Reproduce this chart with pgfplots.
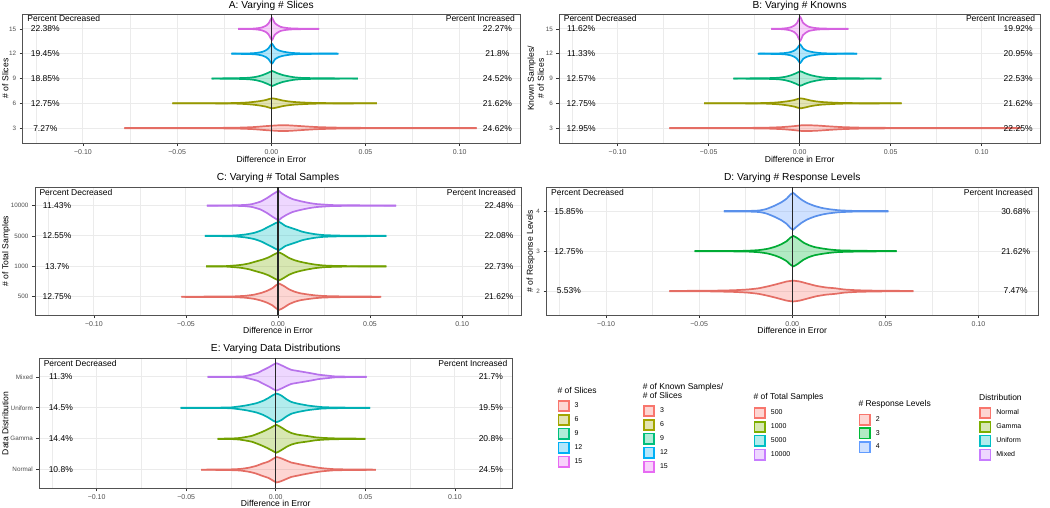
\documentclass[border=0pt]{standalone}
\usepackage{fontspec}
\setmainfont{Liberation Sans}
\usepackage{pgfplots}
\pgfplotsset{compat=1.18}
\usepackage{pgfplotstable}
\usepgfplotslibrary{fillbetween}

\definecolor{hRed}{HTML}{F8766D}
\definecolor{hOlive}{HTML}{A3A500}
\definecolor{hGreenA}{HTML}{00BF7D}
\definecolor{hBlueA}{HTML}{00B0F6}
\definecolor{hPink}{HTML}{E76BF3}
\definecolor{hLime}{HTML}{7CAE00}
\definecolor{hTeal}{HTML}{00BFC4}
\definecolor{hPurple}{HTML}{C77CFF}
\definecolor{hGreenD}{HTML}{00BA38}
\definecolor{hBlueD}{HTML}{619CFF}
\definecolor{grid92}{HTML}{EBEBEB}
\definecolor{grey20}{HTML}{333333}
\definecolor{grey30}{HTML}{4D4D4D}

% ---------- violin half-width profiles (w relative to the peak) ----------
\pgfplotstableread{
x w
-0.0525 0.01
-0.035 0.014
-0.025 0.023
-0.018 0.07
-0.013 0.16
-0.009 0.30
-0.006 0.45
-0.003 0.66
-0.001 0.89
0.0007 1
0.003 0.84
0.006 0.57
0.009 0.39
0.012 0.27
0.016 0.18
0.020 0.11
0.025 0.057
0.035 0.027
0.045 0.016
0.056 0.01
}\tBase

\pgfplotstableread{
x w
-0.0176 0.01
-0.010 0.022
-0.007 0.067
-0.005 0.13
-0.003 0.27
-0.0015 0.49
0.0003 1
0.0018 0.53
0.0035 0.31
0.005 0.18
0.007 0.11
0.009 0.067
0.012 0.033
0.018 0.018
0.0254 0.01
}\tAf

\pgfplotstableread{
x w
-0.0212 0.01
-0.012 0.03
-0.008 0.075
-0.005 0.175
-0.003 0.33
-0.0015 0.55
0.0003 1
0.002 0.55
0.004 0.33
0.006 0.22
0.008 0.15
0.011 0.075
0.016 0.03
0.025 0.015
0.0356 0.01
}\tAt

\pgfplotstableread{
x w
-0.0317 0.013
-0.02 0.033
-0.012 0.1
-0.008 0.23
-0.005 0.43
-0.002 0.73
0.0005 1
0.003 0.73
0.006 0.47
0.009 0.3
0.012 0.17
0.016 0.083
0.025 0.033
0.035 0.02
0.0459 0.013
}\tAn

\pgfplotstableread{
x w
-0.078 0.03
-0.04 0.05
-0.02 0.12
-0.01 0.33
-0.003 0.67
0.003 0.92
0.007 1
0.012 0.83
0.018 0.58
0.025 0.33
0.035 0.17
0.05 0.08
0.07 0.05
0.09 0.035
0.109 0.025
}\tAr

\pgfplotstableread{
x w
-0.0156 0.01
-0.010 0.022
-0.007 0.067
-0.005 0.13
-0.003 0.27
-0.0015 0.49
0.0003 1
0.0018 0.53
0.0035 0.31
0.005 0.18
0.007 0.11
0.009 0.067
0.012 0.033
0.018 0.018
0.0267 0.01
}\tBf

\pgfplotstableread{
x w
-0.0229 0.01
-0.012 0.03
-0.008 0.075
-0.005 0.175
-0.003 0.33
-0.0015 0.55
0.0003 1
0.002 0.55
0.004 0.33
0.006 0.22
0.008 0.15
0.011 0.075
0.016 0.03
0.025 0.015
0.0316 0.01
}\tBt

\pgfplotstableread{
x w
-0.0364 0.013
-0.02 0.033
-0.012 0.1
-0.008 0.23
-0.005 0.43
-0.002 0.73
0.0005 1
0.003 0.73
0.006 0.47
0.009 0.3
0.012 0.17
0.016 0.083
0.025 0.033
0.035 0.02
0.0449 0.013
}\tBn

\pgfplotstableread{
x w
-0.0715 0.03
-0.04 0.05
-0.02 0.12
-0.01 0.33
-0.003 0.67
0.001 0.95
0.004 1
0.010 0.85
0.016 0.6
0.023 0.35
0.033 0.17
0.05 0.08
0.07 0.05
0.095 0.035
0.1215 0.025
}\tBr

\pgfplotstableread{
x w
-0.0386 0.009
-0.025 0.013
-0.018 0.04
-0.014 0.1
-0.0096 0.26
-0.006 0.5
-0.003 0.75
-0.001 0.9
0.0003 1
0.002 0.82
0.005 0.6
0.008 0.43
0.012 0.3
0.015 0.22
0.0175 0.16
0.021 0.1
0.025 0.065
0.03 0.03
0.045 0.013
0.0641 0.009
}\tCa

\pgfplotstableread{
x w
-0.0397 0.011
-0.025 0.02
-0.018 0.1
-0.013 0.22
-0.009 0.4
-0.006 0.6
-0.003 0.8
-0.001 0.94
0.0007 1
0.002 0.9
0.004 0.72
0.007 0.58
0.010 0.45
0.013 0.31
0.016 0.22
0.020 0.13
0.025 0.06
0.035 0.021
0.045 0.015
0.0589 0.011
}\tCb

\pgfplotstableread{
x w
-0.039 0.009
-0.028 0.019
-0.0204 0.1
-0.016 0.2
-0.012 0.35
-0.008 0.5
-0.005 0.65
-0.002 0.86
0.0005 1
0.003 0.84
0.006 0.6
0.009 0.44
0.012 0.33
0.016 0.22
0.020 0.13
0.025 0.06
0.033 0.023
0.045 0.014
0.0589 0.009
}\tCc

\pgfplotstableread{
x w
-0.0367 0.009
-0.025 0.013
-0.018 0.04
-0.014 0.12
-0.010 0.28
-0.006 0.48
-0.003 0.69
-0.001 0.91
0.0005 1
0.002 0.87
0.005 0.63
0.008 0.45
0.012 0.29
0.016 0.18
0.020 0.11
0.025 0.054
0.032 0.022
0.042 0.013
0.0516 0.009
}\tDf

\pgfplotstableread{
x w
-0.066 0.015
-0.045 0.03
-0.032 0.077
-0.024 0.15
-0.018 0.27
-0.012 0.5
-0.007 0.73
-0.003 0.92
0.0005 1
0.004 0.92
0.008 0.73
0.013 0.5
0.018 0.35
0.023 0.27
0.028 0.15
0.035 0.077
0.045 0.038
0.055 0.023
0.065 0.015
}\tDt

\pgfplotstableread{
x w
-0.038 0.009
-0.025 0.014
-0.018 0.04
-0.0134 0.17
-0.010 0.3
-0.0078 0.45
-0.004 0.7
-0.001 0.93
0.0005 1
0.003 0.86
0.006 0.67
0.0086 0.52
0.012 0.44
0.016 0.35
0.020 0.26
0.024 0.16
0.029 0.09
0.033 0.035
0.042 0.014
0.0507 0.009
}\tEm

\pgfplotstableread{
x w
-0.0531 0.009
-0.035 0.013
-0.025 0.03
-0.017 0.16
-0.011 0.32
-0.007 0.5
-0.004 0.7
-0.0015 0.9
0.0005 1
0.003 0.87
0.006 0.6
0.0086 0.42
0.012 0.3
0.018 0.16
0.022 0.1
0.026 0.05
0.032 0.026
0.042 0.013
0.0526 0.009
}\tEu

\pgfplotstableread{
x w
-0.0325 0.009
-0.025 0.02
-0.020 0.06
-0.0134 0.21
-0.0079 0.48
-0.005 0.65
-0.002 0.85
0.0003 1
0.003 0.82
0.006 0.58
0.0086 0.42
0.012 0.3
0.018 0.19
0.022 0.11
0.026 0.067
0.032 0.033
0.04 0.018
0.050 0.009
}\tEg

\pgfplotstableread{
x w
-0.0417 0.01
-0.028 0.017
-0.020 0.06
-0.015 0.16
-0.011 0.3
-0.0078 0.47
-0.004 0.65
-0.0015 0.86
0.0005 1
0.003 0.9
0.006 0.72
0.0086 0.57
0.012 0.47
0.015 0.38
0.018 0.3
0.022 0.2
0.026 0.12
0.032 0.05
0.042 0.019
0.0559 0.01
}\tEn

% #1 table, #2 category position, #3 peak half-width, #4 colour, #5 unique id
\newcommand{\violin}[5]{%
  \addplot[draw=#4!92!black, line width=1.7pt, smooth, tension=0.3, name path=u#5]
    table[x=x, y expr={#2+#3*\thisrow{w}}] {#1};
  \addplot[draw=#4!92!black, line width=1.7pt, smooth, tension=0.3, name path=l#5]
    table[x=x, y expr={#2-#3*\thisrow{w}}] {#1};
  \addplot[fill=#4, fill opacity=0.3, draw=none] fill between[of=u#5 and l#5];
}
\newcommand{\pctfont}{\fontsize{8.5}{10}\selectfont}
\newcommand{\pct}[3]{%
  \node[font=\pctfont, anchor=center, inner sep=0pt] at (axis cs:-0.12,#1) {#2};
  \node[font=\pctfont, anchor=center, inner sep=0pt] at (axis cs:0.12,#1) {#3};
}
\newcommand{\pcthead}{%
  \node[font=\pctfont, anchor=north west, inner sep=0pt] at (axis description cs:0.009,0.988) {Percent Decreased};
  \node[font=\pctfont, anchor=north east, inner sep=0pt] at (axis description cs:0.99,0.988) {Percent Increased};
}
\newcommand{\zeroline}[1]{%
  \addplot[black!85, line width=1.1pt] coordinates {(0,0.4) (0,#1)};
}
\newcommand{\dummy}{\addplot[draw=none, forget plot] coordinates {(0,0) (1,1)};}

\pgfplotsset{
  panel/.style={
    scale only axis,
    xmin=-0.132, xmax=0.132,
    xtick={-0.1,-0.05,0,0.05,0.1},
    xticklabels={−0.10,−0.05,0.00,0.05,0.10},
    minor xtick={-0.125,-0.075,-0.025,0.025,0.075,0.125},
    xmajorgrids=true, ymajorgrids=true, xminorgrids=true,
    major grid style={draw=grid92, line width=1pt},
    minor grid style={draw=grid92, line width=0.5pt},
    axis line style={draw=grey20!85, line width=1pt},
    tick pos=left, tick align=outside,
    major tick length=3pt, minor tick length=0pt,
    tick style={draw=grey20, line width=0.7pt},
    xticklabel style={font=\fontsize{7}{8}\selectfont, text=grey30},
    yticklabel style={font=\fontsize{6.3}{7}\selectfont, text=grey30},
    xlabel={Difference in Error},
    label style={font=\fontsize{8.6}{10}\selectfont},
    title style={font=\fontsize{10.2}{12}\selectfont, anchor=base, yshift=-6pt},
  },
  legax/.style={
    axis lines=none, scale only axis, width=5pt, height=5pt,
    xmin=0, xmax=1, ymin=0, ymax=1, xtick=\empty, ytick=\empty,
    legend style={at={(0,1)}, anchor=north west, draw=none, fill=none,
      font=\fontsize{7}{8}\selectfont, inner sep=0pt, outer sep=0pt,
      row sep=1.9pt, column sep=4.5pt, nodes={inner sep=0.6pt}},
    legend cell align=left,
    legend image code/.code={\draw[##1] (0pt,-5.2pt) rectangle (10.4pt,5.2pt);},
  },
}

\begin{document}
\begin{tikzpicture}

% ================= A =================
\begin{axis}[panel, at={(22.7pt,-143pt)}, anchor=south west,
  width=497.3pt, height=129pt, ymin=0.4, ymax=5.6,
  ytick={1,2,3,4,5}, yticklabels={3,6,9,12,15},
  title={A: Varying \# Slices},
  title style={at={(axis description cs:0.5,1.0426)}},
  xlabel style={at={(axis description cs:0.5,-0.148)}, anchor=base},
  ylabel={\# of Slices},
  ylabel style={at={(axis description cs:-0.029,0.5)}, anchor=base},
]
\violin{\tAr}{1}{0.12}{hRed}{a1}
\violin{\tBase}{2}{0.20}{hOlive}{a2}
\violin{\tAn}{3}{0.30}{hGreenA}{a3}
\violin{\tAt}{4}{0.40}{hBlueA}{a4}
\violin{\tAf}{5}{0.45}{hPink}{a5}
\zeroline{5.6}
\pcthead
\pct{5}{22.38\%}{22.27\%}
\pct{4}{19.45\%}{21.8\%}
\pct{3}{18.85\%}{24.52\%}
\pct{2}{12.75\%}{21.62\%}
\pct{1}{7.27\%}{24.62\%}
\end{axis}

% ================= B =================
\begin{axis}[panel, at={(559.3pt,-143pt)}, anchor=south west,
  width=480.7pt, height=129pt, ymin=0.4, ymax=5.6,
  ytick={1,2,3,4,5}, yticklabels={3,6,9,12,15},
  title={B: Varying \# Knowns},
  title style={at={(axis description cs:0.5,1.0426)}},
  xlabel style={at={(axis description cs:0.5,-0.148)}, anchor=base},
  ylabel={Known Samples/\\\# of Slices},
  ylabel style={at={(axis description cs:-0.049,0.5)}, anchor=center, align=center},
]
\violin{\tBr}{1}{0.12}{hRed}{b1}
\violin{\tBase}{2}{0.20}{hOlive}{b2}
\violin{\tBn}{3}{0.29}{hGreenA}{b3}
\violin{\tBt}{4}{0.37}{hBlueA}{b4}
\violin{\tBf}{5}{0.48}{hPink}{b5}
\zeroline{5.6}
\pcthead
\pct{5}{11.62\%}{19.92\%}
\pct{4}{11.33\%}{20.95\%}
\pct{3}{12.57\%}{22.53\%}
\pct{2}{12.75\%}{21.62\%}
\pct{1}{12.95\%}{22.25\%}
\end{axis}

% ================= C =================
\begin{axis}[panel, at={(35pt,-315pt)}, anchor=south west,
  width=486pt, height=127.7pt, ymin=0.4, ymax=4.6,
  ytick={1,2,3,4}, yticklabels={500,1000,5000,10000},
  title={C: Varying \# Total Samples},
  title style={at={(axis description cs:0.5,1.051)}},
  xlabel style={at={(axis description cs:0.5,-0.147)}, anchor=base},
  ylabel={\# of Total Samples},
  ylabel style={at={(axis description cs:-0.055,0.5)}, anchor=base},
]
\violin{\tBase}{1}{0.43}{hRed}{c1}
\violin{\tCc}{2}{0.46}{hLime}{c2}
\violin{\tCb}{3}{0.46}{hTeal}{c3}
\violin{\tCa}{4}{0.49}{hPurple}{c4}
\zeroline{4.6}
\pcthead
\pct{4}{11.43\%}{22.48\%}
\pct{3}{12.55\%}{22.08\%}
\pct{2}{13.7\%}{22.73\%}
\pct{1}{12.75\%}{21.62\%}
\end{axis}

% ================= D =================
\begin{axis}[panel, at={(546.5pt,-315pt)}, anchor=south west,
  width=491.5pt, height=127.7pt, ymin=0.4, ymax=3.6,
  ytick={1,2,3}, yticklabels={2,3,4},
  title={D: Varying \# Response Levels},
  title style={at={(axis description cs:0.5,1.051)}},
  xlabel style={at={(axis description cs:0.5,-0.147)}, anchor=base},
  ylabel={\# of Response Levels},
  ylabel style={at={(axis description cs:-0.0275,0.5)}, anchor=base},
]
\violin{\tDt}{1}{0.26}{hRed}{d1}
\violin{\tBase}{2}{0.38}{hGreenD}{d2}
\violin{\tDf}{3}{0.46}{hBlueD}{d3}
\zeroline{3.6}
\pcthead
\pct{3}{15.85\%}{30.68\%}
\pct{2}{12.75\%}{21.62\%}
\pct{1}{5.53\%}{7.47\%}
\end{axis}

% ================= E =================
\begin{axis}[panel, at={(39.3pt,-488.3pt)}, anchor=south west,
  width=473pt, height=130pt, ymin=0.4, ymax=4.6,
  ytick={1,2,3,4}, yticklabels={Normal,Gamma,Uniform,Mixed},
  title={E: Varying Data Distributions},
  title style={at={(axis description cs:0.5,1.049)}},
  xlabel style={at={(axis description cs:0.5,-0.137)}, anchor=base},
  ylabel={Data Distribution},
  ylabel style={at={(axis description cs:-0.0655,0.5)}, anchor=base},
]
\violin{\tEn}{1}{0.41}{hRed}{e1}
\violin{\tEg}{2}{0.45}{hLime}{e2}
\violin{\tEu}{3}{0.46}{hTeal}{e3}
\violin{\tEm}{4}{0.44}{hPurple}{e4}
\zeroline{4.6}
\pcthead
\pct{4}{11.3\%}{21.7\%}
\pct{3}{14.5\%}{19.5\%}
\pct{2}{14.4\%}{20.8\%}
\pct{1}{10.8\%}{24.5\%}
\end{axis}

% ================= legends =================
\node[anchor=west, inner sep=0pt, font=\fontsize{8.5}{9}\selectfont] at (557.3pt,-390.7pt) {\# of Slices};
\begin{axis}[legax, at={(557.5pt,-400pt)}, anchor=north west]
\dummy
\addlegendimage{draw=hRed, fill=hRed, fill opacity=0.3, line width=1.6pt}\addlegendentry{3}
\addlegendimage{draw=hOlive, fill=hOlive, fill opacity=0.3, line width=1.6pt}\addlegendentry{6}
\addlegendimage{draw=hGreenA, fill=hGreenA, fill opacity=0.3, line width=1.6pt}\addlegendentry{9}
\addlegendimage{draw=hBlueA, fill=hBlueA, fill opacity=0.3, line width=1.6pt}\addlegendentry{12}
\addlegendimage{draw=hPink, fill=hPink, fill opacity=0.3, line width=1.6pt}\addlegendentry{15}
\end{axis}

\node[anchor=west, inner sep=0pt, align=left, font=\fontsize{8.5}{9}\selectfont] at (642.7pt,-391.2pt) {\# of Known Samples/\\\# of Slices};
\begin{axis}[legax, at={(643pt,-405pt)}, anchor=north west]
\dummy
\addlegendimage{draw=hRed, fill=hRed, fill opacity=0.3, line width=1.6pt}\addlegendentry{3}
\addlegendimage{draw=hOlive, fill=hOlive, fill opacity=0.3, line width=1.6pt}\addlegendentry{6}
\addlegendimage{draw=hGreenA, fill=hGreenA, fill opacity=0.3, line width=1.6pt}\addlegendentry{9}
\addlegendimage{draw=hBlueA, fill=hBlueA, fill opacity=0.3, line width=1.6pt}\addlegendentry{12}
\addlegendimage{draw=hPink, fill=hPink, fill opacity=0.3, line width=1.6pt}\addlegendentry{15}
\end{axis}

\node[anchor=west, inner sep=0pt, font=\fontsize{8.5}{9}\selectfont] at (753.3pt,-397.3pt) {\# of Total Samples};
\begin{axis}[legax, at={(753.8pt,-407pt)}, anchor=north west]
\dummy
\addlegendimage{draw=hRed, fill=hRed, fill opacity=0.3, line width=1.6pt}\addlegendentry{500}
\addlegendimage{draw=hLime, fill=hLime, fill opacity=0.3, line width=1.6pt}\addlegendentry{1000}
\addlegendimage{draw=hTeal, fill=hTeal, fill opacity=0.3, line width=1.6pt}\addlegendentry{5000}
\addlegendimage{draw=hPurple, fill=hPurple, fill opacity=0.3, line width=1.6pt}\addlegendentry{10000}
\end{axis}

\node[anchor=west, inner sep=0pt, font=\fontsize{8.5}{9}\selectfont] at (858.3pt,-404.3pt) {\# Response Levels};
\begin{axis}[legax, at={(858.8pt,-413.5pt)}, anchor=north west]
\dummy
\addlegendimage{draw=hRed, fill=hRed, fill opacity=0.3, line width=1.6pt}\addlegendentry{2}
\addlegendimage{draw=hGreenD, fill=hGreenD, fill opacity=0.3, line width=1.6pt}\addlegendentry{3}
\addlegendimage{draw=hBlueD, fill=hBlueD, fill opacity=0.3, line width=1.6pt}\addlegendentry{4}
\end{axis}

\node[anchor=west, inner sep=0pt, font=\fontsize{8.5}{9}\selectfont] at (979pt,-397.3pt) {Distribution};
\begin{axis}[legax, at={(979.3pt,-407pt)}, anchor=north west]
\dummy
\addlegendimage{draw=hRed, fill=hRed, fill opacity=0.3, line width=1.6pt}\addlegendentry{Normal}
\addlegendimage{draw=hLime, fill=hLime, fill opacity=0.3, line width=1.6pt}\addlegendentry{Gamma}
\addlegendimage{draw=hTeal, fill=hTeal, fill opacity=0.3, line width=1.6pt}\addlegendentry{Uniform}
\addlegendimage{draw=hPurple, fill=hPurple, fill opacity=0.3, line width=1.6pt}\addlegendentry{Mixed}
\end{axis}

\pgfresetboundingbox
\path[use as bounding box] (0pt,0pt) rectangle (1050pt,-507pt);
\end{tikzpicture}
\end{document}
